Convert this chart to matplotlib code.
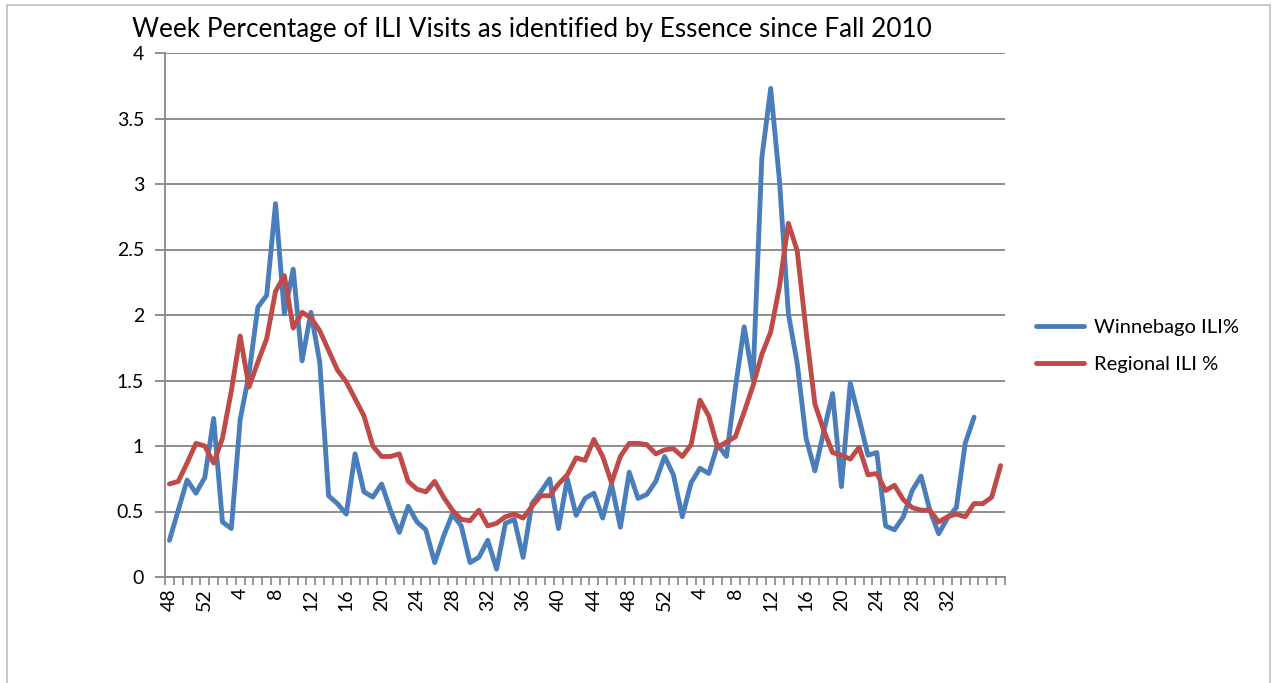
import matplotlib
matplotlib.use("Agg")
import matplotlib.pyplot as plt
from matplotlib.patches import Rectangle
from matplotlib.ticker import FixedLocator, NullFormatter

plt.rcParams['font.family'] = ['Lato', 'DejaVu Sans']

# weeks: fall 2010 (48-52), all of 2011, 2012 up to week 38
weeks = list(range(48, 53)) + list(range(1, 53)) + list(range(1, 39))
# Excel shows no label past week 35 of 2012
week_labels = [str(w) for w in weeks[:92]] + [''] * (len(weeks) - 92)

winnebago = [0.28, 0.51, 0.74, 0.64, 0.76, 1.21, 0.42, 0.37, 1.20, 1.55,
             2.06, 2.15, 2.85, 2.01, 2.35, 1.65, 2.02, 1.64, 0.62, 0.56,
             0.48, 0.94, 0.65, 0.61, 0.71, 0.51, 0.34, 0.54, 0.42, 0.36,
             0.11, 0.31, 0.48, 0.39, 0.11, 0.15, 0.28, 0.06, 0.41, 0.44,
             0.15, 0.56, 0.65, 0.75, 0.37, 0.75, 0.47, 0.60, 0.64, 0.45,
             0.71, 0.38, 0.80, 0.60, 0.63, 0.73, 0.92, 0.78, 0.46, 0.72,
             0.83, 0.79, 1.01, 0.92, 1.44, 1.91, 1.51, 3.20, 3.73, 3.02,
             2.01, 1.63, 1.06, 0.81, 1.11, 1.40, 0.69, 1.48, 1.21, 0.93,
             0.95, 0.39, 0.36, 0.46, 0.66, 0.77, 0.51, 0.33, 0.45, 0.53,
             1.02, 1.22]

regional = [0.71, 0.73, 0.87, 1.02, 1.00, 0.87, 1.06, 1.42, 1.84, 1.45,
            1.64, 1.82, 2.18, 2.30, 1.90, 2.02, 1.98, 1.88, 1.73, 1.58,
            1.49, 1.36, 1.23, 1.00, 0.92, 0.92, 0.94, 0.73, 0.67, 0.65,
            0.73, 0.61, 0.51, 0.44, 0.43, 0.51, 0.39, 0.41, 0.46, 0.48,
            0.45, 0.54, 0.62, 0.62, 0.71, 0.78, 0.91, 0.89, 1.05, 0.92,
            0.72, 0.92, 1.02, 1.02, 1.01, 0.94, 0.97, 0.98, 0.92, 1.01,
            1.35, 1.23, 0.99, 1.03, 1.07, 1.26, 1.46, 1.70, 1.87, 2.22,
            2.70, 2.49, 1.88, 1.32, 1.12, 0.95, 0.93, 0.90, 0.99, 0.78,
            0.79, 0.66, 0.70, 0.59, 0.53, 0.51, 0.51, 0.42, 0.46, 0.48,
            0.46, 0.56, 0.56, 0.61, 0.85]

blue = '#4A7EBB'
red = '#BE4B48'
grid = '#868686'

fig = plt.figure(figsize=(12.74, 6.83), dpi=100)
ax = fig.add_axes([165 / 1274, 1 - 577 / 683, 840 / 1274, 524 / 683])

# chart area border
fig.patches.append(Rectangle((7 / 1274, -0.02), 1263 / 1274, 1 - 5 / 683 + 0.02,
                             transform=fig.transFigure, fill=False,
                             edgecolor='#BFBFBF', linewidth=1.2))

ax.plot(range(len(winnebago)), winnebago, color=blue, lw=3.5,
        solid_joinstyle='round', solid_capstyle='round', label='Winnebago ILI%')
ax.plot(range(len(regional)), regional, color=red, lw=3.5,
        solid_joinstyle='round', solid_capstyle='round', label='Regional ILI %')

ax.set_xlim(-0.5, len(weeks) - 0.5)
ax.set_ylim(0, 4)
ax.set_yticks([0, 0.5, 1, 1.5, 2, 2.5, 3, 3.5, 4])
ax.set_yticklabels(['0', '0.5', '1', '1.5', '2', '2.5', '3', '3.5', '4'])
ax.yaxis.grid(True, color=grid, linewidth=1.3)
ax.set_axisbelow(True)

label_pos = list(range(0, len(weeks), 4))
ax.set_xticks(label_pos)
ax.set_xticklabels([week_labels[i] for i in label_pos], rotation=90)
ax.xaxis.set_minor_locator(FixedLocator([i - 0.5 for i in range(len(weeks) + 1)]))
ax.xaxis.set_minor_formatter(NullFormatter())
ax.tick_params(axis='x', which='major', length=0, pad=8, labelsize=14)
ax.tick_params(axis='x', which='minor', length=6, width=1.2, color=grid)
ax.tick_params(axis='y', length=7, width=1.3, color=grid, pad=8, labelsize=14)

for s in ['top', 'right']:
    ax.spines[s].set_visible(False)
for s in ['left', 'bottom']:
    ax.spines[s].set_color(grid)
    ax.spines[s].set_linewidth(1.3)

fig.text(532 / 1274, 1 - 29 / 683,
         'Week Percentage of ILI Visits as identified by Essence since Fall 2010',
         ha='center', va='center', fontsize=18.8)

ax.legend(loc='center left', bbox_to_anchor=(1018 / 1274, 1 - 346 / 683),
          bbox_transform=fig.transFigure, frameon=False, fontsize=14.5,
          handlelength=2.4, handletextpad=0.45, labelspacing=0.95)

fig.savefig('out.png', dpi=100)
